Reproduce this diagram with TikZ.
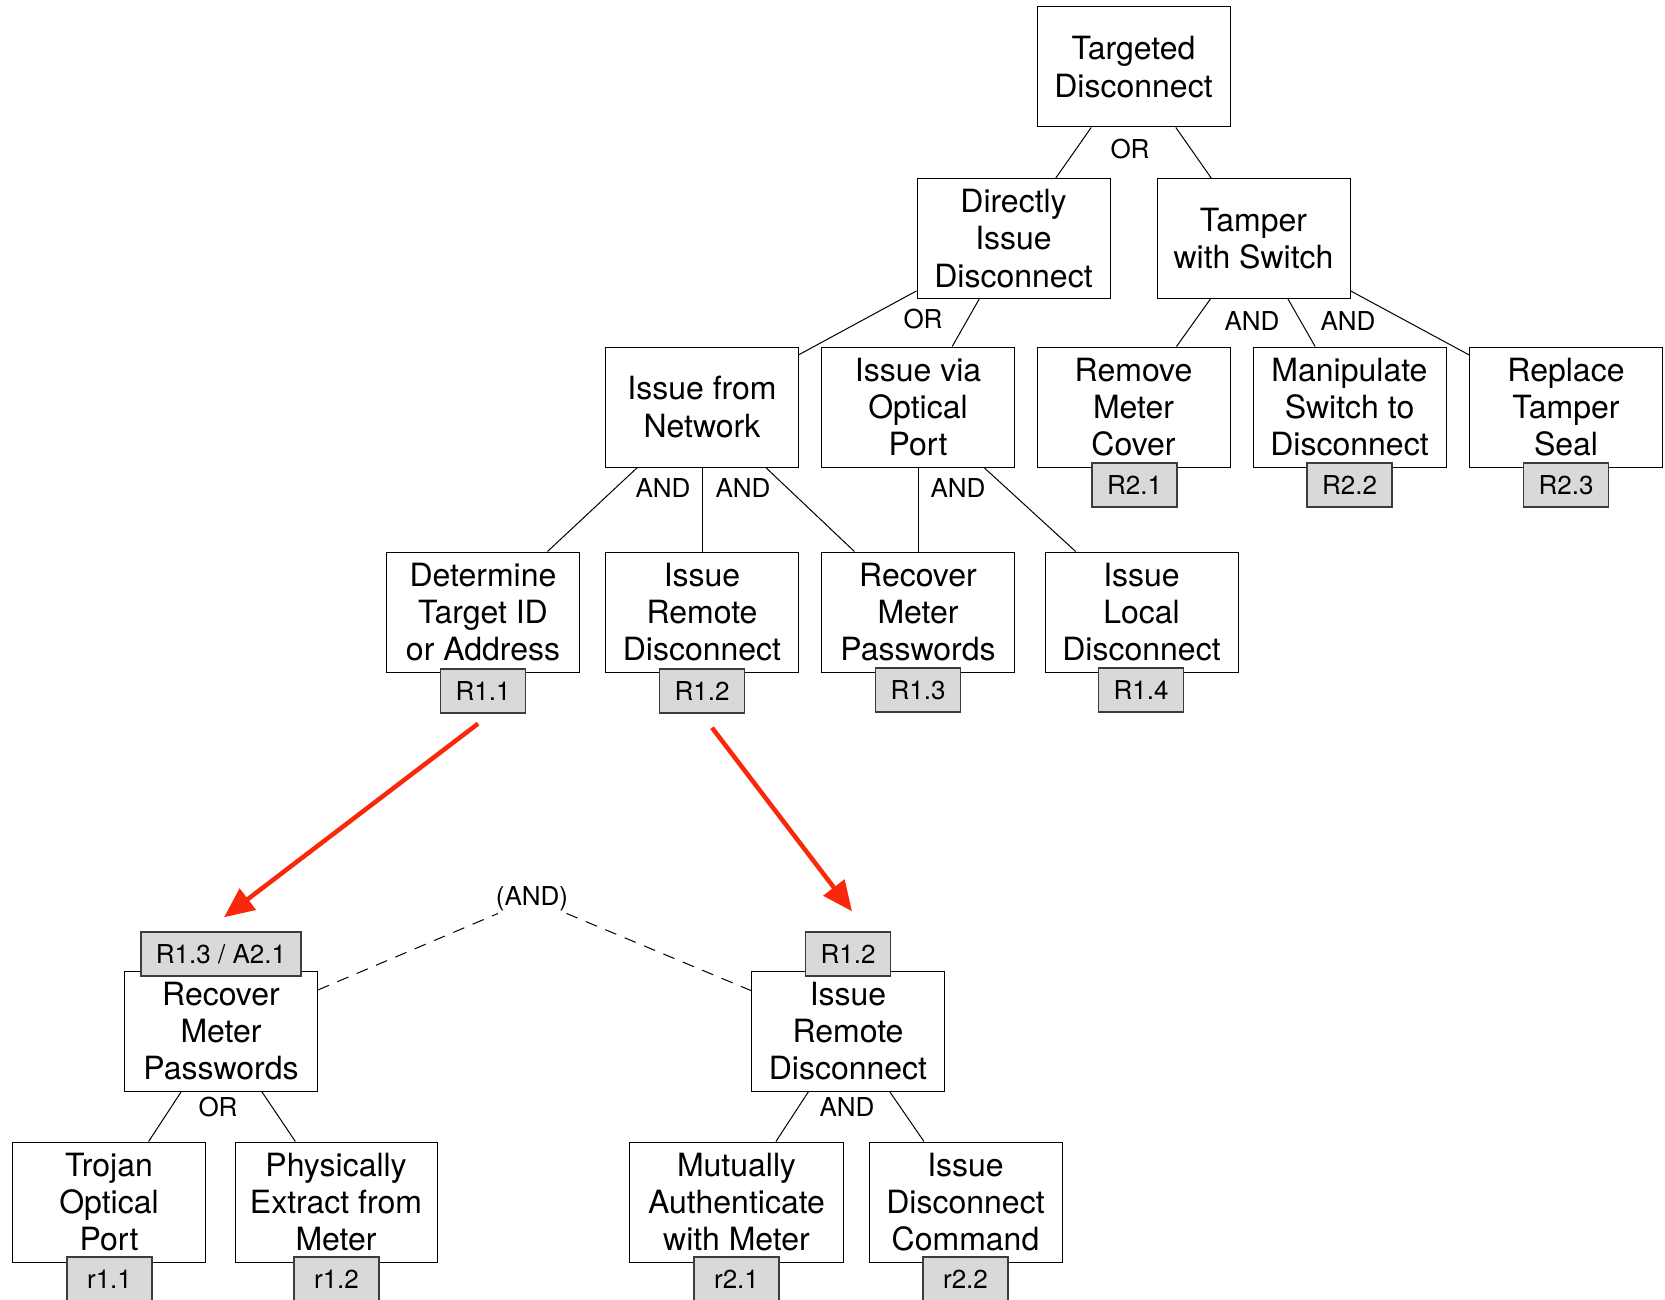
\documentclass[tikz,border=0pt]{standalone}
\usepackage{fontspec}
\setmainfont{TeX Gyre Heros}
\usetikzlibrary{arrows.meta}
\definecolor{tagfill}{RGB}{217,217,217}
\definecolor{tagline}{RGB}{60,60,60}
\definecolor{attackred}{RGB}{250,40,10}
\tikzset{
  goal/.style={draw=black, line width=1pt, fill=white, minimum width=193pt, minimum height=120pt,
    inner sep=0pt, align=center, font=\fontsize{32}{37.2}\selectfont},
  tagbox/.style={draw=tagline, line width=1.4pt, fill=tagfill, minimum width=85pt, minimum height=44pt,
    inner sep=0pt, font=\fontsize{26}{30}\selectfont},
  gate/.style={inner sep=2pt, font=\fontsize{26}{30}\selectfont},
  edge/.style={draw=black, line width=1pt},
  linkdash/.style={draw=black, line width=1pt, dash pattern=on 12pt off 9pt},
  redarrow/.style={draw=attackred, line width=4.5pt, -{Triangle[length=30pt, width=26pt]}}
}
\begin{document}
\begin{tikzpicture}[x=1pt, y=-1pt]
\useasboundingbox (0,0) rectangle (1665,1300);

% upper attack tree
\node[goal] (td)  at (1133.5,67)   {Targeted\\Disconnect};
\node[goal] (did) at (1013.5,238.5) {Directly\\Issue\\Disconnect};
\node[goal] (tws) at (1253.5,238.5) {Tamper\\with Switch};
\node[goal] (ifn) at (702,407)  {Issue from\\Network};
\node[goal] (ivo) at (918,407)  {Issue via\\Optical\\Port};
\node[goal] (rmc) at (1133.5,407) {Remove\\Meter\\Cover};
\node[goal] (msd) at (1349.5,407) {Manipulate\\Switch to\\Disconnect};
\node[goal] (rts) at (1566,407) {Replace\\Tamper\\Seal};
\node[goal] (dta) at (483,612)   {Determine\\Target ID\\or Address};
\node[goal] (ird) at (702,612)   {Issue\\Remote\\Disconnect};
\node[goal] (rmp) at (918,612)   {Recover\\Meter\\Passwords};
\node[goal] (ild) at (1141.5,612) {Issue\\Local\\Disconnect};

\path[edge] (td) -- (did);
\path[edge] (td) -- (tws);
\path[edge] (did) -- (ifn);
\path[edge] (did) -- (ivo);
\path[edge] (tws) -- (rmc);
\path[edge] (tws) -- (msd);
\path[edge] (tws) -- (rts);
\path[edge] (ifn) -- (dta);
\path[edge] (ifn) -- (ird);
\path[edge] (ifn) -- (rmp);
\path[edge] (ivo) -- (rmp);
\path[edge] (ivo) -- (ild);

\node[gate] (g1) at (1130,149) {OR};
\node[gate] (g2) at (923,319)  {OR};
\node[gate] (g3) at (1252,321) {AND};
\node[gate] (g4) at (1348,321) {AND};
\node[gate] (g5) at (663,488)  {AND};
\node[gate] (g6) at (743,488)  {AND};
\node[gate] (g7) at (958,488)  {AND};

\node[tagbox] (t21) at (1134.5,485) {R2.1};
\node[tagbox] (t22) at (1349.5,485) {R2.2};
\node[tagbox] (t23) at (1566,485)   {R2.3};
\node[tagbox] (t11) at (483,691)    {R1.1};
\node[tagbox] (t12) at (702,691)    {R1.2};
\node[tagbox] (t13) at (918,690)    {R1.3};
\node[tagbox] (t14) at (1141,690)   {R1.4};

% refined sub-trees
\node[goal] (brmp) at (221,1031) {Recover\\Meter\\Passwords};
\node[goal] (bird) at (848,1031) {Issue\\Remote\\Disconnect};
\node[goal] (top)  at (109,1202) {Trojan\\Optical\\Port};
\node[goal, minimum width=202pt] (pem) at (336,1202) {Physically\\Extract from\\Meter};
\node[goal, minimum width=214pt] (mam) at (736.5,1202) {Mutually\\Authenticate\\with Meter};
\node[goal] (idc)  at (965.5,1202) {Issue\\Disconnect\\Command};

\path[edge] (brmp) -- (top);
\path[edge] (brmp) -- (pem);
\path[edge] (bird) -- (mam);
\path[edge] (bird) -- (idc);

\node[gate] (g8) at (218,1107) {OR};
\node[gate] (g9) at (847,1107) {AND};

\node[gate] (gand) at (532,899) {(AND)};
\path[linkdash] (brmp) -- (gand);
\path[linkdash] (gand) -- (bird);

\node[tagbox, minimum width=160pt] (bt13) at (221,954) {R1.3 / A2.1};
\node[tagbox] (bt12) at (848,954) {R1.2};
\node[tagbox] (r11) at (109.5,1279) {r1.1};
\node[tagbox] (r12) at (336.5,1279) {r1.2};
\node[tagbox] (r21) at (736.5,1279) {r2.1};
\node[tagbox] (r22) at (965.5,1279) {r2.2};

% refinement arrows
\coordinate (a1s) at ([shift={(-5,10)}]t11.south);
\coordinate (a1e) at ([shift={(3,-14)}]bt13.north);
\coordinate (a2s) at ([shift={(10,14)}]t12.south);
\coordinate (a2e) at ([shift={(4,-20)}]bt12.north);
\draw[redarrow] (a1s) -- (a1e);
\draw[redarrow] (a2s) -- (a2e);
\end{tikzpicture}
\end{document}
